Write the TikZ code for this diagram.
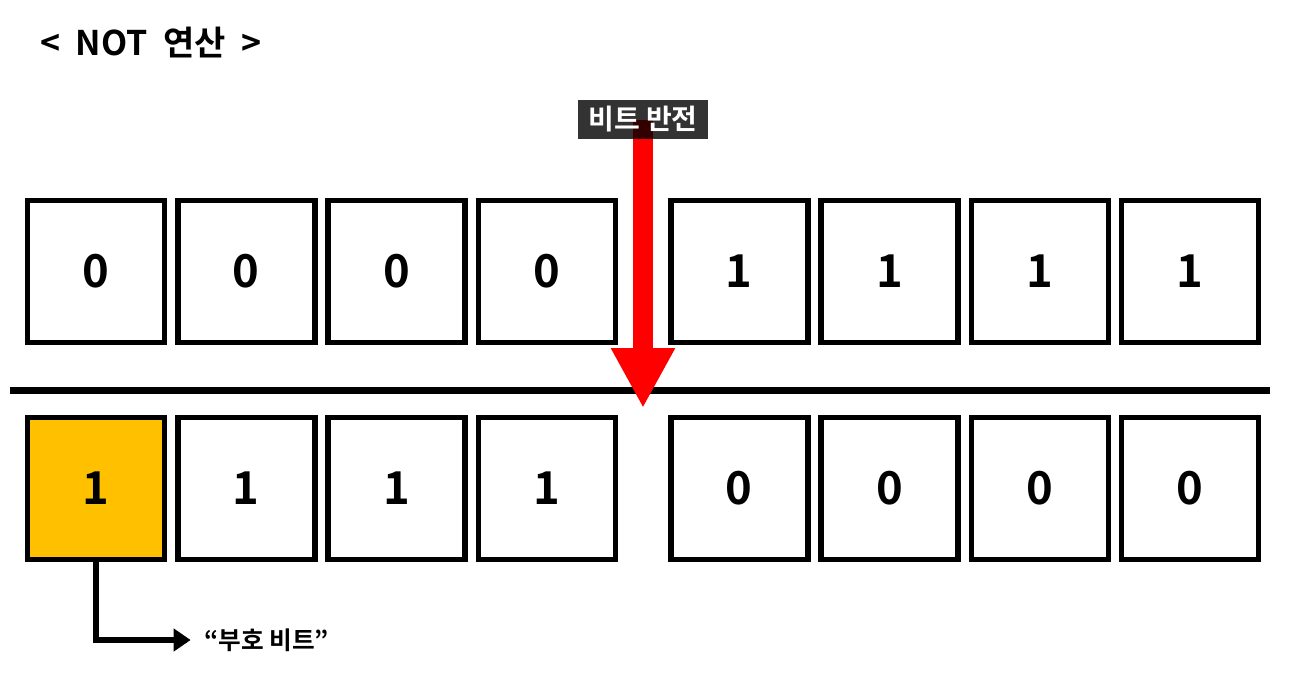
\documentclass[tikz,border=0pt]{standalone}
\usepackage{fontspec}
\setmainfont{Noto Sans CJK KR}[BoldFont={Noto Sans CJK KR Bold}]
\usepackage{xcolor}
\usetikzlibrary{arrows.meta}
\pgfdeclarelayer{back}
\pgfsetlayers{back,main}
\definecolor{signbit}{HTML}{FFC000}
\tikzset{
  bit/.style={draw=black, line width=4.1pt, minimum width=102.75pt, minimum height=106.5pt,
    inner sep=0pt, font=\bfseries\fontsize{34}{34}\selectfont},
}

\begin{document}
\begin{tikzpicture}[x=0.75pt,y=-0.75pt,node distance=112.7pt]
\useasboundingbox (0,0) rectangle (1291,682);
\node(T) [anchor=west, inner sep=0pt, font=\bfseries\fontsize{25.5}{25.5}\selectfont] at (40,43) {<\ \ NOT\ \ 연산\ \ >};
\node(lbl) [fill=black, fill opacity=0.8, text opacity=1, text=white, inner sep=0pt,
  minimum width=97.5pt, minimum height=29.25pt, font=\bfseries\fontsize{21}{21}\selectfont] at (643,119.5) {비트 반전};

% before
\node(A1) [bit] at (96,271.5) {0};
\node(A2) [bit,right of=A1] {0};
\node(A3) [bit,right of=A2] {0};
\node(A4) [bit,right of=A3] {0};
\node(A5) [bit,right of=A4,node distance=144.4pt] {1};
\node(A6) [bit,right of=A5] {1};
\node(A7) [bit,right of=A6] {1};
\node(A8) [bit,right of=A7] {1};

% after
\node(B1) [bit,fill=signbit,below of=A1,node distance=162.75pt] {1};
\node(B2) [bit,right of=B1] {1};
\node(B3) [bit,right of=B2] {1};
\node(B4) [bit,right of=B3] {1};
\node(B5) [bit,right of=B4,node distance=144.4pt] {0};
\node(B6) [bit,right of=B5] {0};
\node(B7) [bit,right of=B6] {0};
\node(B8) [bit,right of=B7] {0};

\node(S) [anchor=west, inner sep=0pt, font=\bfseries\fontsize{18.5}{18.5}\selectfont] at (204,640) {“부호 비트”};

\coordinate(L) at (10,390);
\coordinate(R) at (1270,390);
\coordinate(tip) at (643,408);

\begin{pgfonlayer}{back}
\draw[line width=5.25pt] (L) -- (R);
\draw[red, line width=15pt, -{Triangle[length=45pt,width=45pt]}] (lbl.center) -- (tip);
\end{pgfonlayer}
\draw[line width=5pt, -{Triangle[length=12.75pt,width=16.5pt]}] (B1.south) |- ([xshift=-10pt]S.west);
\end{tikzpicture}
\end{document}
